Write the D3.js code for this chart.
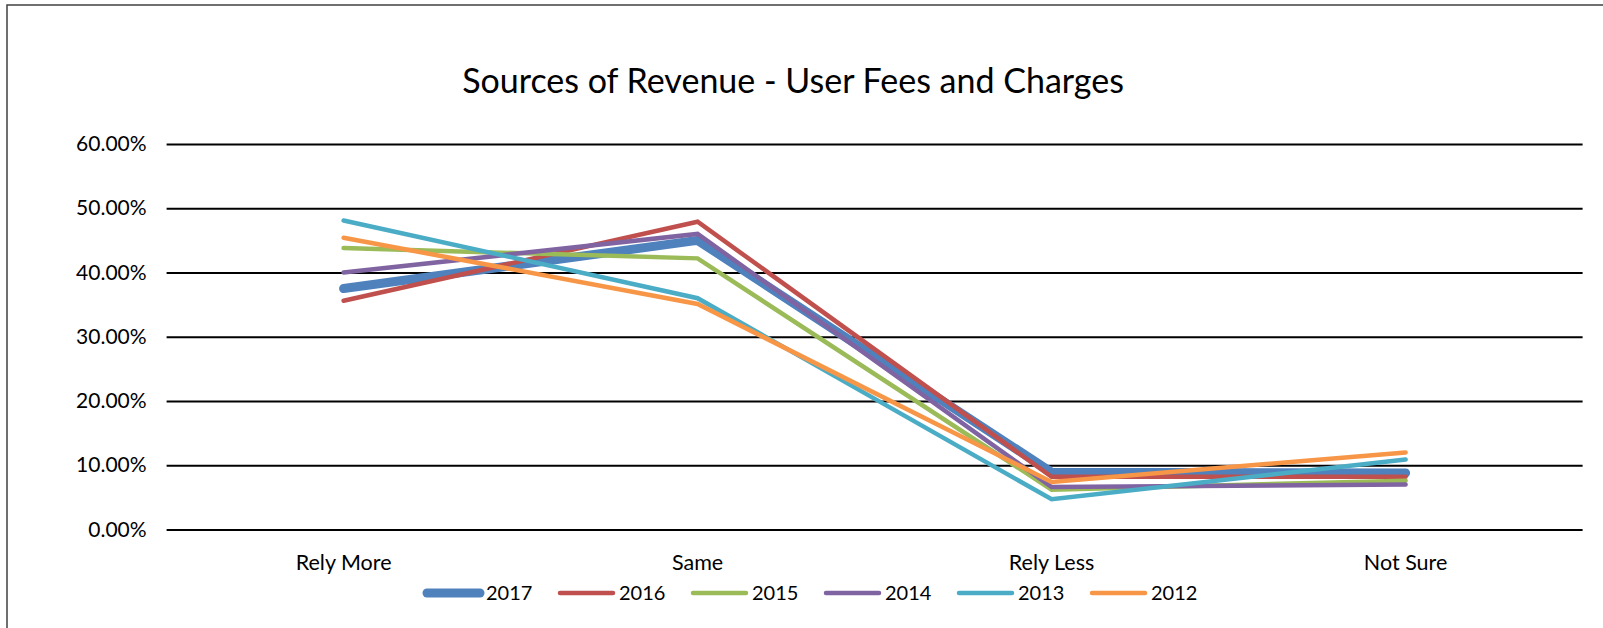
<!DOCTYPE html>
<html lang="en-US">
<head>
    <title>Sources of Revenue - User Fees and Charges</title>
    <meta charset="utf-8">
    <script src="https://cdn.jsdelivr.net/npm/d3@7"></script>
    <style>
        html, body { margin: 0; padding: 0; background: #fff; }
        svg { display: block; }
    </style>
</head>
<body>
    <svg></svg>
</body>
<script>

    // data
    const categories = ['Rely More', 'Same', 'Rely Less', 'Not Sure'];
    const years = ['2017', '2016', '2015', '2014', '2013', '2012'];
    const v2017 = [0.375, 0.450, 0.089, 0.088];
    const v2016 = [0.356, 0.479, 0.082, 0.082];
    const v2015 = [0.438, 0.422, 0.062, 0.076];
    const v2014 = [0.400, 0.460, 0.066, 0.070];
    const v2013 = [0.481, 0.360, 0.047, 0.109];
    const v2012 = [0.454, 0.351, 0.074, 0.120];
    const yTicks = [0, 0.1, 0.2, 0.3, 0.4, 0.5, 0.6];

    const values = [v2017, v2016, v2015, v2014, v2013, v2012];
    const colors = ['#4F81BD', '#C0504D', '#9BBB59', '#8064A2', '#4BACC6', '#F79646'];
    const widths = [9, 4.5, 4.5, 4.5, 4.5, 4.5];

    let opt = {
        width: 1603,
        height: 628,
        font: 'Lato, "Liberation Sans", sans-serif',
        plot: { left: 166.6, right: 1582.6, top: 144, bottom: 529.5 }
    };

    let svg = d3.select('svg')
        .attr('width', opt.width)
        .attr('height', opt.height);

    // outer frame (runs off the page right and bottom)
    svg.append('rect')
        .attr('x', 7)
        .attr('y', 5)
        .attr('width', 1700)
        .attr('height', 700)
        .attr('fill', 'none')
        .attr('stroke', '#404040')
        .attr('stroke-width', 1.5);

    // title
    svg.append('text')
        .attr('x', 793)
        .attr('y', 93)
        .attr('text-anchor', 'middle')
        .style('font-family', opt.font)
        .style('font-size', '34px')
        .attr('fill', '#000')
        .text('Sources of Revenue - User Fees and Charges');

    let xScale = d3.scaleBand()
        .domain(categories)
        .range([opt.plot.left, opt.plot.right]);
    let xMid = c => xScale(c) + xScale.bandwidth() / 2;

    let yScale = d3.scaleLinear()
        .domain([0, 0.6])
        .range([opt.plot.bottom, opt.plot.top]);

    // y axis with gridlines
    let y_axis = svg.append('g')
        .attr('transform', `translate(${opt.plot.left},0)`)
        .call(d3.axisLeft(yScale)
            .tickValues(yTicks)
            .tickFormat(d3.format('.2%'))
            .tickSize(-(opt.plot.right - opt.plot.left))
            .tickPadding(20));
    y_axis.select('.domain').remove();
    y_axis.selectAll('line')
        .attr('stroke', '#000')
        .attr('stroke-width', 2);
    y_axis.selectAll('text')
        .style('font-family', opt.font)
        .style('font-size', '21px')
        .attr('fill', '#000');

    // x axis labels
    let x_axis = svg.append('g')
        .attr('transform', `translate(0,${opt.plot.bottom})`)
        .call(d3.axisBottom(xScale).tickSize(0).tickPadding(25));
    x_axis.select('.domain').remove();
    x_axis.selectAll('text')
        .style('font-family', opt.font)
        .style('font-size', '21.5px')
        .attr('fill', '#000');

    // lines
    let line = d3.line()
        .x((d, i) => xMid(categories[i]))
        .y(d => yScale(d));

    svg.append('g')
        .selectAll('path')
        .data(values)
        .enter()
        .append('path')
        .attr('d', line)
        .attr('fill', 'none')
        .attr('stroke', (d, i) => colors[i])
        .attr('stroke-width', (d, i) => widths[i])
        .attr('stroke-linecap', 'round')
        .attr('stroke-linejoin', 'miter');

    // legend
    let legend = svg.append('g')
        .attr('transform', 'translate(425,593)');
    let item = legend.selectAll('g')
        .data(years)
        .enter()
        .append('g')
        .attr('transform', (d, i) => `translate(${i * 133},0)`);
    item.append('line')
        .attr('x1', 2)
        .attr('x2', 55)
        .attr('y1', 0)
        .attr('y2', 0)
        .attr('stroke', (d, i) => colors[i])
        .attr('stroke-width', (d, i) => widths[i])
        .attr('stroke-linecap', 'round');
    item.append('text')
        .attr('x', 61)
        .attr('y', 0)
        .attr('dy', '0.36em')
        .style('font-family', opt.font)
        .style('font-size', '20px')
        .attr('fill', '#000')
        .text(d => d);

</script>
</html>
